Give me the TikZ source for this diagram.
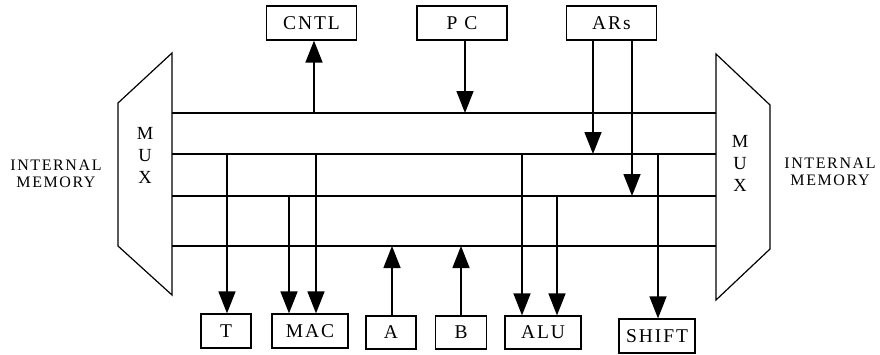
\documentclass[tikz,border=0pt]{standalone}
\usepackage{fontspec}
\setmainfont{Liberation Serif}
\newfontfamily\spaced[LetterSpace=10]{Liberation Serif}
\usetikzlibrary{arrows.meta}

\begin{document}
\begin{tikzpicture}[x=1pt,y=-1pt,line width=1.2pt,
    box/.style={draw,inner sep=0pt,minimum height=34pt,font=\spaced\fontsize{19.5}{22}\selectfont},
    wide/.style={box,minimum width=90pt},
    arr/.style={line width=1.5pt,-{Triangle[length=22pt,width=17pt]}}]
\useasboundingbox (0,0) rectangle (880,354);
% multiplexers
\draw (118,103) -- (172,53) -- (172,295) -- (118,246) -- cycle;
\draw (716,54) -- (770,105) -- (770,249) -- (716,300) -- cycle;
\node[align=center,font=\fontsize{18.5}{22}\selectfont] (muxl) at (145,155) {M\\U\\X};
\node[align=center,font=\fontsize{18.5}{22}\selectfont] (muxr) at (740,163) {M\\U\\X};
\node[align=center,font=\spaced\fontsize{16}{17}\selectfont] (meml) at (56,174) {INTERNAL\\MEMORY};
\node[align=center,font=\spaced\fontsize{16}{17}\selectfont] (memr) at (830,172) {INTERNAL\\MEMORY};
% buses
\coordinate (bus1) at (172,113);
\coordinate (bus2) at (172,154);
\coordinate (bus3) at (172,196);
\coordinate (bus4) at (172,246);
\coordinate (busend) at (716,0);
\foreach \b in {bus1,bus2,bus3,bus4}
  \draw (\b) -- (\b -| busend);
% registers
\node[wide] (cntl) at (311.5,23) {CNTL};
\node[wide] (pc) at (462,23) {P C};
\node[wide] (ars) at (611.5,23) {ARs};
\node[box,minimum width=50pt] (treg) at (226,331) {T};
\node[box,minimum width=76pt] (mac) at (310,331) {MAC};
\node[box,minimum width=50pt,minimum height=33pt] (areg) at (391,332.5) {A};
\node[box,minimum width=51pt,minimum height=33pt] (breg) at (461,332.5) {B};
\node[box,minimum width=76pt,minimum height=33pt] (alu) at (543,332.5) {ALU};
\node[box,minimum width=76pt] (shifter) at (657,336) {SHIFT};
% data paths
\draw[arr] ([xshift=2.5pt]cntl.south |- bus1) -- ([xshift=2.5pt]cntl.south);
\draw[arr] ([xshift=3pt]pc.south) -- ([xshift=3pt]pc.south |- bus1);
\draw[arr] ([xshift=-18.5pt]ars.south) -- ([xshift=-18.5pt]ars.south |- bus2);
\draw[arr] ([xshift=20.5pt]ars.south) -- ([xshift=20.5pt]ars.south |- bus3);
\draw[arr] ([xshift=1pt]treg.north |- bus2) -- ([xshift=1pt]treg.north);
\draw[arr] ([xshift=-21pt]mac.north |- bus3) -- ([xshift=-21pt]mac.north);
\draw[arr] ([xshift=6pt]mac.north |- bus2) -- ([xshift=6pt]mac.north);
\draw[arr] ([xshift=1pt]areg.north) -- ([xshift=1pt]areg.north |- bus4);
\draw[arr] (breg.north) -- (breg.north |- bus4);
\draw[arr] ([xshift=-21pt]alu.north |- bus2) -- ([xshift=-21pt]alu.north);
\draw[arr] ([xshift=14pt]alu.north |- bus3) -- ([xshift=14pt]alu.north);
\draw[arr] ([xshift=1pt]shifter.north |- bus2) -- ([xshift=1pt]shifter.north);
\end{tikzpicture}
\end{document}
